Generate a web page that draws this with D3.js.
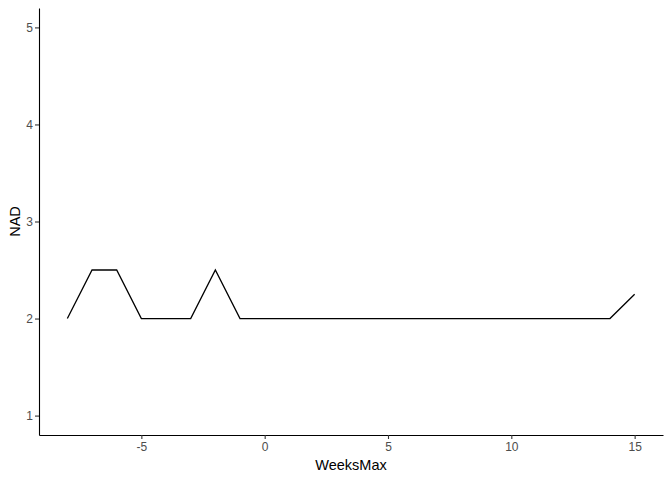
<!DOCTYPE html>
<html>
<head>
  <meta charset="utf-8">
  <script src="https://d3js.org/d3.v7.min.js"></script>
  <style>
    body { margin: 0; background: #fff; }
    .tick text { font-family: "Liberation Sans", Arial, sans-serif; font-size: 12px; fill: #4d4d4d; }
    .title { font-family: "Liberation Sans", Arial, sans-serif; font-size: 14.5px; fill: #000; }
  </style>
</head>
<body>
  <script>
    // weeks and NAD values
    const weeks = [-8, -7, -6, -5, -4, -3, -2, -1, 0, 1, 2, 3, 4, 5, 6, 7, 8, 9, 10, 11, 12, 13, 14, 15];
    const nad = [2, 2.5, 2.5, 2, 2, 2, 2.5, 2, 2, 2, 2, 2, 2, 2, 2, 2, 2, 2, 2, 2, 2, 2, 2, 2.25];
    const xTicks = [-5, 0, 5, 10, 15];
    const yTicks = [1, 2, 3, 4, 5];

    const width = 672, height = 480;
    const margin = { top: 8, right: 9, bottom: 45, left: 39 };

    const svg = d3.select("body").append("svg")
        .attr("width", width)
        .attr("height", height);

    // ggplot style expansion of 5%
    const xSpan = d3.max(weeks) - d3.min(weeks);
    const x = d3.scaleLinear()
        .domain([d3.min(weeks) - xSpan * 0.05, d3.max(weeks) + xSpan * 0.05])
        .range([margin.left, width - margin.right]);
    const y = d3.scaleLinear()
        .domain([1 - 0.2, 5 + 0.2])
        .range([height - margin.bottom, margin.top]);

    const data = weeks.map((w, i) => ({ w: w, v: nad[i] }));

    svg.append("path")
        .datum(data)
        .attr("fill", "none")
        .attr("stroke", "#000")
        .attr("stroke-width", 1.3)
        .attr("d", d3.line().x(d => x(d.w)).y(d => y(d.v)));

    const xAxis = svg.append("g")
        .attr("transform", `translate(0,${height - margin.bottom})`)
        .call(d3.axisBottom(x).tickValues(xTicks).tickSizeInner(4).tickSizeOuter(0).tickPadding(3));
    const yAxis = svg.append("g")
        .attr("transform", `translate(${margin.left},0)`)
        .call(d3.axisLeft(y).tickValues(yTicks).tickFormat(d3.format("d"))
          .tickSizeInner(4).tickSizeOuter(0).tickPadding(2));

    [xAxis, yAxis].forEach(g => {
      g.select(".domain").attr("stroke", "#000").attr("stroke-width", 1.1);
      g.selectAll(".tick line").attr("stroke", "#333").attr("stroke-width", 1.1);
    });
    xAxis.selectAll(".tick text").text(d => d < 0 ? "-" + Math.abs(d) : d);

    svg.append("text")
        .attr("class", "title")
        .attr("x", (margin.left + width - margin.right) / 2)
        .attr("y", 470)
        .attr("text-anchor", "middle")
        .text("WeeksMax");

    svg.append("text")
        .attr("class", "title")
        .attr("transform", `translate(20,${(margin.top + height - margin.bottom) / 2}) rotate(-90)`)
        .attr("text-anchor", "middle")
        .text("NAD");
  </script>
</body>
</html>
